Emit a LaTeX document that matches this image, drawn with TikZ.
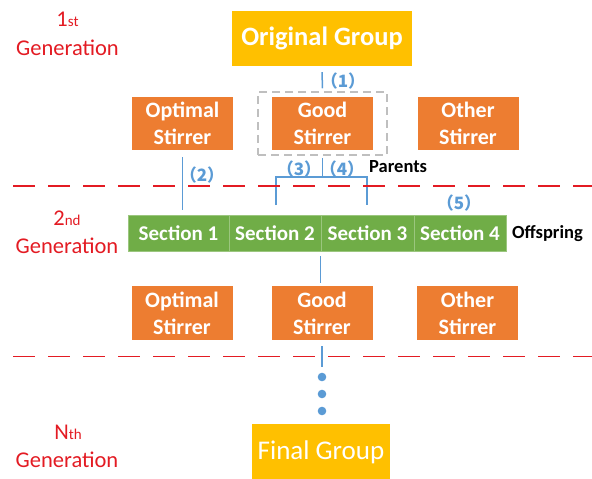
\documentclass[tikz,border=0pt]{standalone}
\usepackage{fontspec}
\setmainfont{Carlito}
\newfontfamily\cjkf{Noto Sans CJK SC}
\definecolor{corange}{HTML}{ED7D31}
\definecolor{cyellow}{HTML}{FFC000}
\definecolor{cgreen}{HTML}{70AD47}
\definecolor{cblue}{HTML}{5B9BD5}
\definecolor{cred}{HTML}{E31B23}
\definecolor{cgray}{HTML}{BFBFBF}
\begin{document}
\begin{tikzpicture}[x=1pt,y=-1pt,
  stir/.style={fill=corange, text=white, font=\bfseries\fontsize{22}{27}\selectfont, align=center, minimum width=101pt, minimum height=53pt, inner sep=0pt},
  grp/.style={fill=cyellow, text=white, inner sep=0pt},
  sec/.style={fill=cgreen, draw=cgreen!70!white, line width=0.6pt, text=white, font=\bfseries\fontsize{21}{21}\selectfont, minimum height=36pt, inner sep=0pt},
  conn/.style={draw=cblue, line width=1.5pt},
  lbl/.style={text=cblue, font=\cjkf\bfseries\fontsize{17}{17}\selectfont, inner sep=0pt},
  gen/.style={text=cred, font=\fontsize{22.5}{22.5}\selectfont, anchor=base, inner sep=0pt},
  sepline/.style={draw=cred, line width=1.5pt, dash pattern=on 22pt off 13pt},
  dotn/.style={circle, fill=cblue, minimum size=8.6pt, inner sep=0pt},
  side/.style={anchor=base west, font=\bfseries\fontsize{18.5}{18.5}\selectfont, inner sep=0pt}
]
\useasboundingbox (0,0) rectangle (592,479);

% generation labels
\node[gen] (g1a) at (67.5,27) {1{\fontsize{15}{15}\selectfont st}};
\node[gen] (g1b) at (67.5,55) {Generation};
\node[gen] (g2a) at (67,225) {2{\fontsize{15}{15}\selectfont nd}};
\node[gen] (g2b) at (67,253) {Generation};
\node[gen] (gNa) at (68,439) {N{\fontsize{15}{15}\selectfont th}};
\node[gen] (gNb) at (67,467) {Generation};

% first generation
\node[grp, minimum width=180pt, minimum height=55pt, font=\bfseries\fontsize{26.5}{26.5}\selectfont] (orig) at (322,38.5) {Original Group};
\node[draw=cgray, line width=1.5pt, dash pattern=on 8pt off 5pt, minimum width=129pt, minimum height=63pt, inner sep=0pt] (gbox) at (322.5,123.5) {};
\node[stir] (opt1) at (182.5,123.5) {Optimal\\Stirrer};
\node[stir] (good1) at (322.5,123.5) {Good\\Stirrer};
\node[stir] (oth1) at (468,123.5) {Other\\Stirrer};

% sections
\node[sec, minimum width=101pt] (s1) at (178.5,233) {Section 1};
\node[sec, minimum width=92pt] (s2) at (275,233) {Section 2};
\node[sec, minimum width=93pt] (s3) at (367.5,233) {Section 3};
\node[sec, minimum width=92pt] (s4) at (460,233) {Section 4};

% second generation stirrers
\node[stir, minimum height=54pt] (opt2) at (182,313) {Optimal\\Stirrer};
\node[stir, minimum height=54pt] (good2) at (322,313) {Good\\Stirrer};
\node[stir, minimum height=54pt] (oth2) at (467.5,313) {Other\\Stirrer};

% final
\node[grp, minimum width=138pt, minimum height=56pt, font=\fontsize{27}{27}\selectfont] (final) at (321,452) {Final Group};

% side labels
\node[side] (par) at (369,172) {Parents};
\node[side] (off) at (512,238) {Offspring};

% step labels
\node[lbl] (l1) at (343,81) {（1）};
\node[lbl] (l2) at (202,175) {（2）};
\node[lbl] (l3) at (299,169) {（3）};
\node[lbl] (l4) at (342,169) {（4）};
\node[lbl] (l5) at (459,203) {（5）};

% connectors
\draw[conn] ([yshift=-6pt]orig.south) -- ([yshift=3pt]gbox.north);
\coordinate (jn) at (322.5,177);
\coordinate (bl) at (276,177);
\coordinate (br) at (367,177);
\coordinate (blb) at (276,205);
\coordinate (brb) at (367,205);
\draw[conn] ([yshift=-2pt]gbox.south) -- (jn);
\draw[conn] (blb) -- (bl) -- (br) -- (brb);
\coordinate (t2) at (opt1.south |- s1.north);
\draw[conn] ([yshift=-7pt]opt1.south) -- ([yshift=5pt]t2);
\coordinate (t3) at (good2.north -| s3.south west);
\draw[conn] ([yshift=-5pt]s3.south west) -- ([yshift=3pt]t3);
\draw[conn] ([yshift=-6pt]good2.south) -- ([yshift=-27pt]good2.south);
\node[dotn] (d1) at (322,377) {};
\node[dotn] (d2) at (322,394) {};
\node[dotn] (d3) at (322,411) {};

% separators
\coordinate (sa1) at (13,186);
\coordinate (sa2) at (592,186);
\coordinate (sb1) at (13,356.5);
\coordinate (sb2) at (592,356.5);
\draw[sepline] (sa1) -- (sa2);
\draw[sepline] (sb1) -- (sb2);
\end{tikzpicture}
\end{document}
